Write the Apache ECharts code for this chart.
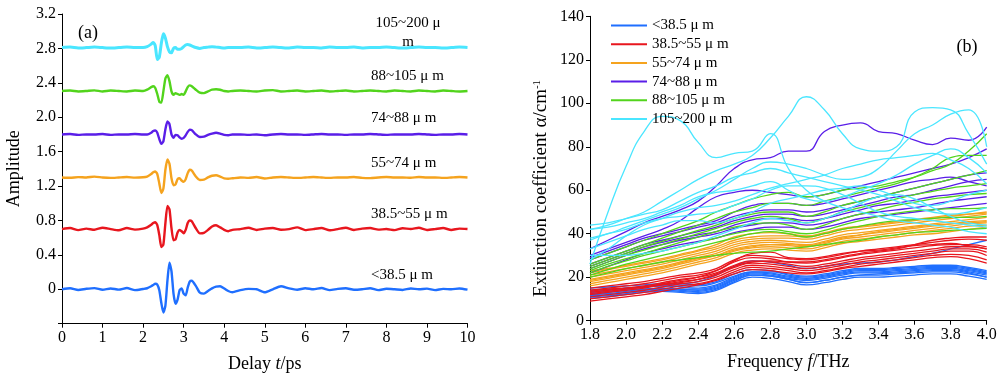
<!DOCTYPE html>
<html><head><meta charset="utf-8">
<script src="https://cdn.jsdelivr.net/npm/echarts@6/dist/echarts.min.js"></script>
<style>html,body{margin:0;padding:0;background:#fff}#c{width:1000px;height:380px}</style>
</head><body><div id="c"></div>
<script>
// ---------- Panel (a): time-domain waveforms ----------
const timePs = [0,0.2,0.4,0.6,0.8,1.0,1.2,1.4,1.6,1.8,2.0,
  2.1,2.2,2.25,2.3,2.35,2.4,2.45,2.5,2.55,2.6,2.65,2.7,2.75,2.8,2.85,2.9,2.95,3.0,3.05,3.1,3.15,3.2,3.3,3.4,3.5,3.6,3.7,3.8,3.9,4.0,4.1,4.2,
  4.4,4.6,4.8,5.0,5.2,5.4,5.6,5.8,6.0,6.2,6.4,6.6,6.8,7.0,7.2,7.4,7.6,7.8,8.0,8.2,8.4,8.6,8.8,9.0,9.2,9.4,9.6,9.8,10.0];

const ampLt385 = [0,0.012,-0.008,0.006,0.014,-0.006,0.01,-0.004,0.015,-0.01,0.004,
  0.012,0.035,0.05,0.065,0.055,-0.01,-0.16,-0.27,-0.19,0.1,0.31,0.21,-0.05,-0.17,-0.12,-0.01,0.01,-0.05,-0.07,0.02,0.09,0.1,0.04,-0.04,-0.05,-0.02,0.01,0.03,0.035,0.01,-0.02,-0.035,
  -0.01,0.005,0.0,-0.035,0.0,0.035,0.01,-0.005,0.012,0.0,0.015,-0.01,0.005,0.012,-0.006,0.0,0.012,-0.01,0.006,0.0,-0.008,0.01,0.0,0.008,-0.01,0.005,0.0,0.01,-0.004];
const amp385to55 = [0.70,0.712,0.688,0.705,0.692,0.716,0.70,0.686,0.712,0.694,0.705,
  0.72,0.75,0.77,0.78,0.745,0.63,0.49,0.52,0.77,0.97,0.93,0.71,0.57,0.58,0.66,0.69,0.675,0.65,0.69,0.77,0.80,0.79,0.71,0.65,0.655,0.69,0.73,0.745,0.72,0.69,0.675,0.69,
  0.70,0.715,0.69,0.705,0.712,0.692,0.70,0.72,0.688,0.70,0.712,0.686,0.70,0.716,0.69,0.705,0.712,0.694,0.70,0.688,0.71,0.70,0.715,0.69,0.70,0.712,0.69,0.705,0.70];
const amp55to74 = [1.30,1.296,1.304,1.30,1.31,1.30,1.295,1.30,1.305,1.298,1.302,
  1.31,1.34,1.36,1.37,1.34,1.23,1.12,1.17,1.39,1.51,1.46,1.29,1.21,1.22,1.28,1.29,1.265,1.25,1.28,1.35,1.39,1.38,1.31,1.27,1.275,1.30,1.32,1.325,1.31,1.29,1.285,1.29,
  1.30,1.295,1.305,1.288,1.30,1.305,1.30,1.295,1.30,1.305,1.30,1.295,1.30,1.30,1.305,1.295,1.292,1.30,1.305,1.30,1.30,1.296,1.305,1.30,1.30,1.295,1.30,1.305,1.30];
const amp74to88 = [1.80,1.805,1.795,1.80,1.80,1.805,1.795,1.80,1.80,1.805,1.80,
  1.80,1.82,1.84,1.845,1.82,1.745,1.69,1.72,1.86,1.95,1.92,1.80,1.76,1.795,1.79,1.765,1.75,1.76,1.79,1.83,1.855,1.85,1.80,1.77,1.775,1.795,1.81,1.82,1.81,1.795,1.79,1.80,
  1.80,1.795,1.80,1.79,1.80,1.805,1.80,1.80,1.795,1.80,1.805,1.80,1.80,1.795,1.80,1.80,1.805,1.80,1.795,1.80,1.80,1.80,1.805,1.80,1.795,1.80,1.80,1.805,1.80];
const amp88to105 = [2.305,2.31,2.30,2.305,2.312,2.30,2.31,2.305,2.30,2.31,2.305,
  2.32,2.35,2.36,2.34,2.27,2.18,2.17,2.30,2.45,2.49,2.42,2.30,2.26,2.28,2.27,2.26,2.27,2.26,2.30,2.35,2.37,2.36,2.32,2.285,2.28,2.30,2.32,2.325,2.32,2.305,2.30,2.305,
  2.31,2.305,2.30,2.31,2.315,2.30,2.305,2.31,2.30,2.305,2.31,2.30,2.305,2.31,2.30,2.305,2.31,2.305,2.30,2.31,2.305,2.30,2.31,2.305,2.30,2.31,2.305,2.30,2.305];
const amp105to200 = [2.81,2.815,2.805,2.81,2.816,2.81,2.805,2.81,2.815,2.81,2.81,
  2.82,2.85,2.87,2.83,2.67,2.70,2.86,2.97,2.92,2.82,2.76,2.75,2.80,2.81,2.79,2.79,2.80,2.82,2.84,2.845,2.84,2.83,2.81,2.80,2.81,2.815,2.82,2.815,2.81,2.805,2.81,2.81,
  2.81,2.815,2.805,2.81,2.815,2.81,2.805,2.815,2.81,2.81,2.805,2.815,2.81,2.81,2.815,2.805,2.81,2.81,2.815,2.81,2.805,2.81,2.815,2.81,2.81,2.805,2.81,2.815,2.81];

// ---------- Panel (b): extinction coefficient spectra ----------
const freqTHz = [1.8,1.9,2.0,2.1,2.2,2.3,2.4,2.5,2.6,2.7,2.8,2.9,3.0,3.1,3.2,3.3,3.4,3.5,3.6,3.7,3.8,3.9,4.0];

const extLt385 = [
  [15,15.5,16,16.5,17,17,16.5,18,21.5,23.5,23,21.5,20.5,21.5,23,24,24,24.5,25,25.5,25.5,24.5,23],
  [13.5,14,15,15.5,16,15.5,15,16.5,20,22.5,22,20.5,19.5,20.5,22,23,23,23.5,24,24.5,24.5,23.5,22],
  [12,12.5,13.5,14.5,15,14.5,14,15.5,19,21.5,21,19.5,18.5,19.5,21,22,22,22.5,23,23.5,23.5,22.5,21],
  [11,11.5,12.5,13.5,14,13.5,13,14.5,18,21,20.5,19,17.5,18.5,20,21,21,21.5,22,22.5,22.5,21.5,20],
  [10.5,11,12,13,13.5,13,12.5,14,17.5,20,19.5,18,16.5,17.5,19,20,20,20.5,21,21.5,21.5,20.5,19],
  [14,14.5,15,15.5,16,16,16,17.5,20.5,22.5,22.5,21,20,21,22.5,23.5,23.5,24,24.5,25,25,24,22.5],
  [12.5,13,14,14.5,15,14.5,14.5,16,19.5,22,21.5,20,19,20,21.5,22.5,22.5,23,23.5,24,24,23,21.5],
  [11.5,12,13,14,14.5,14,13.5,15,18.5,21,20.5,19,17.5,18.5,20,21,21.5,22,22.5,23,23,22,20],
  [13,13.5,14.5,15.5,16.5,17,18,21,25,27.5,27,25.5,24,25,26,26.5,27,28,29.5,31,33,35,37]
];
const ext385to55 = [
  [15,16,17,18,19.5,21,22,24,28,30,29.5,28.5,28,29,30.5,32,33,34,35,36,37,37.5,37],
  [14,15,16,17,18.5,20,21,23,27,29,28.5,27,26.5,27.5,29,30.5,31.5,32.5,33.5,34.5,35,35,34],
  [13,14,15,16,17.5,19,20,22,25.5,27.5,27,26,25,26,27.5,29,30,31,32,33,34,34,33],
  [12,13,14,15,16.5,18,19,21,24.5,26.5,26,25,24,25,26.5,28,29,30,31,32,33,33,31.5],
  [11,12,13,14,15.5,17,18,20,23.5,25.5,25,24,23,24,25.5,27,28,29,30,31,32,32,30],
  [10,11,12,13,14.5,16,17,19,22.5,24.5,24,23,22,23,24.5,26,27,28,29,30,30.5,30,28],
  [9,10,11,12,13.5,15,16.5,18.5,21.5,23.5,23,22,21.5,22.5,24,25,26,27,28,29,29.5,28.5,26.5],
  [13.5,14.5,15,15.5,17,18.5,20,23,27.5,31,31.5,29,28.5,29.5,31,32,32.5,33.5,34.5,35,35.5,34.5,33],
  [12.5,13.5,14.5,15.5,16.5,17.5,19,21.5,25,27,27.5,27,27,28,29.5,31,32,33,35,37,38,38.5,38.5]
];
const ext55to74 = [
  [22,23.5,25,26.5,28,30,32,34,37,38.5,39,39,38.5,40,42,43,44,45,46,47,48,49,50],
  [21,22.5,24,25.5,27,29,31,33,36,37.5,38,38,37.5,39,41,42,43,44,45,46,47,48,49],
  [20,21.5,23,24.5,26,28,30,32,35,36.5,37,36.5,36,37.5,39.5,40.5,41.5,42.5,43.5,44.5,45.5,46.5,47.5],
  [19,20.5,22,23.5,25,27,29,31,34,35.5,36,35.5,35,36.5,38.5,39.5,40.5,41.5,42.5,43.5,44.5,45.5,46],
  [18,19.5,21,22.5,24,26,28,30,33,34.5,35,34.5,34,35.5,37.5,38.5,39.5,40.5,41.5,42.5,43.5,44.5,45],
  [17,18.5,20,21.5,23,25,27,29,32,33.5,34,33.5,33,34.5,36.5,37.5,38.5,39.5,40.5,41.5,42.5,43.5,44],
  [16,17.5,19,20.5,22,24,26,28,31,32.5,33,32.5,32,33.5,35.5,36.5,37.5,38.5,39.5,40,41,42,43],
  [23,24,25.5,27,28.5,30.5,32.5,35,38.5,40,40.5,40,39,40.5,42.5,43.5,44.5,45.5,46.5,47.5,48.5,49,49.5],
  [18.5,20,21.5,23,24.5,26.5,28.5,30,32.5,34,35,35,34.5,36,38,39.5,41,42,43,44,44.5,45,45.5]
];
const ext74to88 = [
  [33,37,41,45,48,51,55,62,70,74,75,78,78,87,90,91,87,86,83,81,84,83,89],
  [30,33,36,39,42,46,52,57,59,60,59,58,57,58,60,62,64,66,68,70,72,75,79],
  [28,31,34,37,39,41,43,45,48,50,51,51,50,51,53,55,57,59,61,63,65,67,68],
  [26,29,32,35,37,39,41,43,46,48,49,49,48,49,51,53,55,57,58,60,62,64,65],
  [25,28,31,34,36,38,39.5,41,44,46,47,47,46,47,49,51,53,54,55.5,57,58,59,60],
  [24,27,30,33,35,37,38.5,40,42.5,44,45,45,44,45,47,49,50,51,52,53.5,55,56,57],
  [22,25,28,31,33,35,36.5,38,40.5,42,43,43,42,43,45,47,48,49,50,51,52,53,54],
  [29,32,35,38,40,42,44,46,50,53,54,54,53,54,56,58,60,62,64,65,66,64,62]
];
const ext88to105 = [
  [28,31,34,37,40,43,46,50,53,56,58,59,57,58,60,61,62,64,66,69,72,78,86],
  [26,29,32,35,38,41,44,47,50,52,54,54,53,55,57,59,61,63,66,70,75,76,76],
  [25,28,31,34,36.5,39,41.5,44,47,49,50,50,48,50,53,55,57,59,61,63,65,67,69],
  [24,27,30,32.5,35,37.5,40,42.5,45,47,48,47,45,47,50,52,54,56,58,59.5,61,62,63],
  [23,26,28.5,31,33.5,36,38.5,41,43,44.5,45,44,42,44,47,49,51,53,54.5,56,57,58,58.5],
  [22,25,27.5,30,32,34,36,38,40,41.5,42,41,40,41.5,44,46,48,49.5,50.5,51,51.5,51.5,52],
  [21,23.5,26,28,30,32,34,36,38,40,41,40,38.5,40,42,43.5,45,46,46.5,47,47.5,47.5,48],
  [20,22,24,25.5,27,28,29,30,31,31.5,32,33,34,35,36,37,38.5,39.5,40.5,41,41.5,42,42.5]
];
const ext105to200 = [
  [26,50,71,87,94,92,82,75,77,78,86,70,60,55,52,50,48,46,45,44,43,41,40],
  [42,44,47,50,55,60,65,69,72,76,84,94,103,97,86,79,78,80,96,98,97,86,72],
  [38,40,43,46,49,52,56,60,65,70,73,72,70,67,65,66,70,78,86,90,95,97,80],
  [44,45,47,49,51,55,59,62,66,68,70,68,66,64,62,60,58,55,52,50,49,50,52],
  [42,43,45,47,50,53,57,59,60,62,64,60,56,55,57,60,63,67,72,76,79,75,68],
  [37,40,42,45,47,48,49,50,53,56,60,62,62,61,58,54,50,48,47,46,45,44,43],
  [33,36,39,42,44,46,46,45,47,50,54,56,58,60,61,62,60,57,54,53,55,58,60],
  [30,30,30,31,32,34,36,39,42,45,47,46,45,47,50,54,57,58,56,52,48,45,44],
  [28,33,39,44,47,50,52,53,55,58,61,63,65,67,70,72,74,75,76,77,74,70,63]
];

const sizeGroups = ['<38.5 μ m','38.5~55 μ m','55~74 μ m','74~88 μ m','88~105 μ m','105~200 μ m'];
const traceLabels = ['<38.5 μ m','38.5~55 μ m','55~74 μ m','74~88 μ m','88~105 μ m','105~200 μ\nm'];
const groupColors = ['#1f6fff','#e8161e','#f5a31e','#5a1ee8','#52d41c','#4ae6ff'];

const FONT = 'Liberation Serif, Times New Roman, serif';
const traces = [ampLt385, amp385to55, amp55to74, amp74to88, amp88to105, amp105to200];
const spectra = [extLt385, ext385to55, ext55to74, ext74to88, ext88to105, ext105to200];

const series = [];
traces.forEach((vals, i) => {
  series.push({
    type: 'line', name: 'trace' + i, xAxisIndex: 0, yAxisIndex: 0,
    data: timePs.map((t, j) => [t, vals[j]]),
    symbol: 'none', smooth: 0.2, silent: true,
    lineStyle: { width: i === 5 ? 3 : 2.4, color: groupColors[i] },
    itemStyle: { color: groupColors[i] }
  });
});
spectra.forEach((lines, gi) => {
  lines.forEach(vals => {
    series.push({
      type: 'line', name: sizeGroups[gi], xAxisIndex: 1, yAxisIndex: 1,
      data: freqTHz.map((f, j) => [f, vals[j]]),
      symbol: 'none', smooth: true, silent: true,
      lineStyle: { width: 1.3, color: groupColors[gi] },
      itemStyle: { color: groupColors[gi] }
    });
  });
});

const axisCommon = {
  axisLine: { show: true, onZero: false, lineStyle: { color: '#000', width: 1 } },
  axisTick: { show: true, inside: false, length: 4, lineStyle: { color: '#000' } },
  splitLine: { show: false },
  axisLabel: { color: '#000', fontFamily: FONT, fontSize: 16, margin: 6 },
  nameTextStyle: { color: '#000', fontFamily: FONT, fontSize: 18,
    rich: {
      i: { fontStyle: 'italic', fontFamily: FONT, fontSize: 18, color: '#000' },
      sup: { fontFamily: FONT, fontSize: 11, color: '#000', verticalAlign: 'top', padding: [0, 0, 8, 0] }
    } }
};

const graphics = traceLabels.map((txt, i) => {
  const pos = [[371,275],[371,214],[371,163],[371,118],[371,76],[408,33]][i];
  return { type: 'text', x: pos[0], y: pos[1],
    style: { text: txt, font: '15px ' + FONT, fill: '#000',
      textAlign: i === 5 ? 'center' : 'left', textVerticalAlign: 'middle', lineHeight: 19 } };
});
graphics.push({ type: 'text', x: 88, y: 33, style: { text: '(a)', font: '18px ' + FONT, fill: '#000', textAlign: 'center', textVerticalAlign: 'middle' } });
graphics.push({ type: 'text', x: 967, y: 47, style: { text: '(b)', font: '18px ' + FONT, fill: '#000', textAlign: 'center', textVerticalAlign: 'middle' } });

const option = {
  animation: false,
  backgroundColor: '#fff',
  grid: [
    { left: 62, right: 532.5, top: 14, bottom: 56.3, containLabel: false },
    { left: 590, right: 13.3, top: 16.3, bottom: 59.3, containLabel: false }
  ],
  legend: {
    data: sizeGroups, orient: 'vertical', left: 606, top: 13,
    icon: 'rect', itemWidth: 36, itemHeight: 2, itemGap: 3.7,
    textStyle: { color: '#000', fontFamily: FONT, fontSize: 15, lineHeight: 15 },
    selectedMode: false
  },
  xAxis: [
    Object.assign({}, axisCommon, { gridIndex: 0, type: 'value', min: 0, max: 10, interval: 1,
      name: 'Delay {i|t}/ps', nameLocation: 'middle', nameGap: 32 }),
    Object.assign({}, axisCommon, { gridIndex: 1, type: 'value', min: 1.8, max: 4.0, interval: 0.2,
      name: 'Frequency {i|f}/THz', nameLocation: 'middle', nameGap: 33,
      axisLabel: Object.assign({}, axisCommon.axisLabel, { formatter: v => v.toFixed(1) }) })
  ],
  yAxis: [
    Object.assign({}, axisCommon, { gridIndex: 0, type: 'value', min: -0.4, max: 3.2, interval: 0.4,
      name: 'Amplitude', nameLocation: 'middle', nameGap: 39, nameRotate: 90,
      axisLabel: Object.assign({}, axisCommon.axisLabel, {
        formatter: v => (Math.abs(v + 0.4) < 1e-9 ? '' : (Math.abs(v) < 1e-9 ? '0' : v.toFixed(1))) }) }),
    Object.assign({}, axisCommon, { gridIndex: 1, type: 'value', min: 0, max: 140, interval: 20,
      name: 'Extinction coefficient α/cm{sup|-1}', nameLocation: 'middle', nameGap: 39, nameRotate: 90,
      nameTextStyle: Object.assign({}, axisCommon.nameTextStyle, { fontSize: 19, padding: [0, 40, 0, 0],
        rich: {
          sup: { fontFamily: FONT, fontSize: 11, color: '#000', verticalAlign: 'top', padding: [0, 0, 8, 0] }
        } }) })
  ],
  graphic: graphics,
  series: series
};

const chart = echarts.init(document.getElementById('c'), null, { renderer: 'canvas' });
chart.setOption(option);
</script>
</body></html>
